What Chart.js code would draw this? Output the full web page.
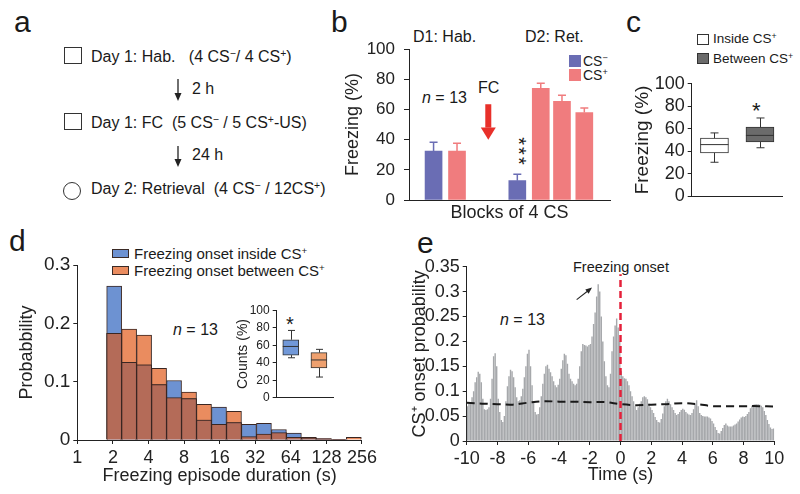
<!DOCTYPE html>
<html>
<head>
<meta charset="utf-8">
<script src="https://cdn.jsdelivr.net/npm/chart.js@4.4.1/dist/chart.umd.min.js"></script>
<style>
  html, body { margin: 0; padding: 0; background: #fff; }
  body { width: 800px; height: 494px; position: relative; overflow: hidden;
         font-family: 'Liberation Sans', Arial, Helvetica, sans-serif; color: #1a1a1a; }
  .t { position: absolute; white-space: nowrap; line-height: 1; }
  .lbl { font-size: 30px; }
  canvas { position: absolute; }
  sup { font-size: 0.65em; position: relative; top: -0.5em; line-height: 0; vertical-align: baseline; }
  .sq { position: absolute; box-sizing: border-box; }
</style>
</head>
<body>

<!-- panel letters -->
<div class="t lbl" style="left:14px;top:7px">a</div>
<div class="t lbl" style="left:331px;top:7px">b</div>
<div class="t lbl" style="left:626px;top:7px">c</div>
<div class="t lbl" style="left:9px;top:226px">d</div>
<div class="t lbl" style="left:417px;top:228px">e</div>

<!-- a: protocol -->
<div class="sq" style="left:64px;top:47px;width:18px;height:17px;border:1px solid #333"></div>
<div class="t" style="left:91px;top:49px;font-size:16px">Day 1: Hab. &nbsp; (4 CS<sup>−</sup>/ 4 CS<sup>+</sup>)</div>
<div class="t" style="left:192px;top:81px;font-size:16px">2 h</div>
<div class="sq" style="left:64px;top:113px;width:18px;height:17px;border:1px solid #333"></div>
<div class="t" style="left:91px;top:115px;font-size:16px">Day 1: FC &nbsp;(5 CS<sup>−</sup> / 5 CS<sup>+</sup>-US)</div>
<div class="t" style="left:192px;top:147px;font-size:16px">24 h</div>
<div class="sq" style="left:63px;top:182px;width:18px;height:18px;border:1px solid #333;border-radius:50%"></div>
<div class="t" style="left:91px;top:181px;font-size:16px">Day 2: Retrieval &nbsp;(4 CS<sup>−</sup> / 12CS<sup>+</sup>)</div>
<svg style="position:absolute;left:0;top:0" width="330" height="230">
  <g stroke="#222" stroke-width="1.3" fill="#222">
    <line x1="178" y1="79" x2="178" y2="95"/>
    <polygon points="174.5,93 181.5,93 178,101" stroke="none"/>
    <line x1="178" y1="146" x2="178" y2="161"/>
    <polygon points="174.5,159 181.5,159 178,167" stroke="none"/>
  </g>
</svg>

<!-- b: annotations -->
<div class="t" style="left:413px;top:29px;font-size:16px">D1: Hab.</div>
<div class="t" style="left:525px;top:29px;font-size:16px">D2: Ret.</div>
<div class="t" style="left:422px;top:90px;font-size:16px"><i>n</i> = 13</div>
<div class="t" style="left:478px;top:80px;font-size:16px">FC</div>
<div class="t" style="left:504px;top:142px;font-size:20px;transform:rotate(90deg);letter-spacing:2px">***</div>
<div class="sq" style="left:569px;top:55px;width:12px;height:12px;background:#6a6db4"></div>
<div class="t" style="left:583px;top:54px;font-size:14px">CS<sup>−</sup></div>
<div class="sq" style="left:569px;top:69px;width:12px;height:12px;background:#f07c7e"></div>
<div class="t" style="left:583px;top:68px;font-size:14px">CS<sup>+</sup></div>

<!-- c: legend and mark -->
<div class="sq" style="left:697px;top:34px;width:12px;height:11px;border:1px solid #333;background:#fff"></div>
<div class="t" style="left:713px;top:32px;font-size:13.5px">Inside CS<sup>+</sup></div>
<div class="sq" style="left:697px;top:53px;width:12px;height:11px;border:1px solid #333;background:#6b6b6b"></div>
<div class="t" style="left:713px;top:52px;font-size:13.5px">Between CS<sup>+</sup></div>
<div class="t" style="left:752px;top:100px;font-size:22px">*</div>

<!-- d: legend and marks -->
<div class="sq" style="left:112px;top:249px;width:17px;height:9px;background:#6d92d2;border:1px solid #3a2a26"></div>
<div class="t" style="left:134px;top:246px;font-size:15px">Freezing onset inside CS<sup>+</sup></div>
<div class="sq" style="left:112px;top:266px;width:17px;height:9px;background:#ea8c5f;border:1px solid #3a2a26"></div>
<div class="t" style="left:134px;top:263px;font-size:15px">Freezing onset between CS<sup>+</sup></div>
<div class="t" style="left:173px;top:322px;font-size:16px"><i>n</i> = 13</div>
<div class="t" style="left:286px;top:314px;font-size:20px">*</div>

<!-- e: annotations -->
<div class="t" style="left:573px;top:260px;font-size:14.5px">Freezing onset</div>
<div class="t" style="left:500px;top:312px;font-size:16px"><i>n</i> = 13</div>

<canvas id="cB" width="290" height="200" style="left:330px;top:30px"></canvas>
<canvas id="cC" width="180" height="140" style="left:620px;top:70px"></canvas>
<canvas id="cD" width="380" height="249" style="left:0px;top:245px"></canvas>
<canvas id="cDin" width="115" height="108" style="left:225px;top:300px"></canvas>
<canvas id="cE" width="390" height="254" style="left:400px;top:240px"></canvas>

<script>
// ── DATA ──────────────────────────────────────────────────────────

// b: freezing per block of 4 CS (mean ± SEM); block slot along the x axis
const bMinusBlock = [1.1, 4.85];
const bMinusMean  = [32.4, 12.8];
const bMinusSem   = [5.9, 4.2];
const bPlusBlock  = [2.15, 5.9, 6.85, 7.85];
const bPlusMean   = [32.4, 74.0, 65.5, 58.0];
const bPlusSem    = [5.3, 3.4, 3.9, 3.0];

// c: freezing inside / between CS+ (box plot)
const cGroups = ['Inside CS+', 'Between CS+'];
const cMin = [30.2, 43.1];
const cQ1  = [38.6, 48.2];
const cMed = [45.9, 54.1];
const cQ3  = [51.6, 61.4];
const cMax = [56.3, 69.6];

// d: episode duration histogram (bin centres in s)
const dBinSec  = [2.05, 2.744, 3.674, 4.918, 6.585, 8.815, 11.80, 15.80, 21.16,
                  28.32, 37.92, 50.77, 67.97, 91.0, 121.8, 163.1, 218.4];
const dInside  = [0.264, 0.133, 0.129, 0.095, 0.102, 0.071, 0.034, 0.0566, 0.030,
                  0.027, 0.0286, 0.018, 0.012, 0.0034, 0.002, 0.001, 0];
const dBetween = [0.183, 0.190, 0.180, 0.123, 0.0726, 0.082, 0.061, 0.027, 0.049,
                  0.0057, 0.010, 0.0126, 0.0046, 0.0046, 0.0023, 0.001, 0.0046];
const dTicks   = [1, 2, 4, 8, 16, 32, 64, 128, 256];

// d inset: counts (%) box plot
const dinGroups = ['inside', 'between'];
const dinMin = [45.7, 23.7];
const dinQ1  = [48.7, 34.0];
const dinMed = [58.6, 43.2];
const dinQ3  = [66.3, 51.6];
const dinMax = [76.9, 55.3];

// e: CS+ onset probability, 0.1 s bins from -10 s to +10 s (one row per second)
const eProb = [
  0.070,0.075,0.078,0.088,0.100,0.118,0.128,0.139,0.135,0.118,
  0.085,0.064,0.062,0.064,0.068,0.085,0.125,0.170,0.176,0.150,
  0.085,0.058,0.042,0.038,0.050,0.080,0.110,0.130,0.143,0.140,
  0.128,0.108,0.088,0.080,0.082,0.090,0.105,0.128,0.150,0.175,
  0.183,0.150,0.112,0.080,0.058,0.053,0.054,0.068,0.090,0.115,
  0.135,0.150,0.153,0.145,0.138,0.130,0.120,0.112,0.108,0.113,
  0.125,0.145,0.162,0.175,0.172,0.155,0.135,0.125,0.120,0.115,
  0.112,0.115,0.125,0.150,0.180,0.195,0.193,0.192,0.190,0.193,
  0.195,0.210,0.235,0.258,0.290,0.315,0.300,0.250,0.200,0.160,
  0.130,0.112,0.108,0.135,0.180,0.210,0.232,0.246,0.228,0.200,
  0.140,0.130,0.126,0.125,0.120,0.112,0.100,0.090,0.080,0.070,
  0.062,0.068,0.075,0.080,0.088,0.090,0.088,0.084,0.075,0.068,
  0.062,0.056,0.048,0.042,0.038,0.037,0.044,0.055,0.070,0.080,
  0.085,0.080,0.074,0.068,0.062,0.056,0.052,0.054,0.058,0.062,
  0.065,0.063,0.058,0.055,0.053,0.052,0.056,0.064,0.075,0.082,
  0.070,0.056,0.052,0.050,0.049,0.049,0.049,0.047,0.045,0.040,
  0.035,0.028,0.022,0.016,0.015,0.020,0.026,0.032,0.035,0.031,
  0.029,0.029,0.029,0.031,0.033,0.035,0.039,0.043,0.047,0.049,
  0.048,0.050,0.054,0.058,0.066,0.071,0.073,0.074,0.074,0.074,
  0.073,0.071,0.068,0.060,0.052,0.042,0.034,0.027,0.024,0.025,
];
// shuffled-baseline (dashed black)
const eBaseT = [-10,-9,-8,-7,-6,-5,-4,-3,-2,-1,0,1,2,3,4,5,6,7,8,9,10];
const eBaseP = [0.077,0.075,0.074,0.073,0.077,0.080,0.079,0.079,0.078,0.078,0.074,
                0.072,0.073,0.074,0.076,0.074,0.070,0.070,0.070,0.070,0.069];
const eOnsetTop = 0.335;

// ── ESTILO ────────────────────────────────────────────────────────

const FONT = "'Liberation Sans', Arial, Helvetica, sans-serif";
const INK  = '#222';
Chart.defaults.font.family = FONT;
Chart.defaults.color = INK;

function baseOpts(pad) {
  return {
    responsive: false, animation: false, events: [],
    layout: { padding: pad },
    plugins: { legend: { display: false }, tooltip: { enabled: false } },
  };
}

function axisY(o) {
  return {
    type: 'linear', min: o.min, max: o.max,
    afterFit: s => { s.width = o.width; },
    border: { display: true, color: INK, width: 1 },
    grid: { display: true, drawOnChartArea: false, drawTicks: true, tickLength: o.tick || 4, color: INK },
    ticks: { stepSize: o.step, autoSkip: false, padding: o.pad || 3, color: INK, font: { size: o.size },
             callback: v => String(+v.toFixed(2)) },
    title: o.title
      ? { display: true, text: o.title, color: INK, font: { size: o.titleSize }, padding: { top: o.titlePad, bottom: 0 } }
      : { display: false },
  };
}

function axisXBlank(height, title, size, pad) {
  return {
    afterFit: s => { s.height = height; },
    border: { display: true, color: INK, width: 1 },
    grid: { display: false },
    ticks: { display: false },
    title: title
      ? { display: true, text: title, color: INK, font: { size }, padding: { top: 0, bottom: pad } }
      : { display: false },
  };
}

// ── PLUGINS ───────────────────────────────────────────────────────

function mkBoxPlugin(st, cap) {
  return {
    id: 'boxWhiskers',
    afterDatasetsDraw(chart) {
      const { ctx, scales: { y } } = chart;
      const meta = chart.getDatasetMeta(0);
      ctx.save();
      ctx.strokeStyle = '#333';
      ctx.lineWidth = 1;
      meta.data.forEach((bar, i) => {
        const x = Math.round(bar.x) + 0.5, half = bar.width / 2;
        const lo = y.getPixelForValue(st.min[i]), hi = y.getPixelForValue(st.max[i]);
        const q1 = y.getPixelForValue(st.q1[i]),  q3 = y.getPixelForValue(st.q3[i]);
        const md = y.getPixelForValue(st.med[i]);
        ctx.beginPath();
        ctx.moveTo(x, q1); ctx.lineTo(x, lo);
        ctx.moveTo(x - cap, lo); ctx.lineTo(x + cap, lo);
        ctx.moveTo(x, q3); ctx.lineTo(x, hi);
        ctx.moveTo(x - cap, hi); ctx.lineTo(x + cap, hi);
        ctx.moveTo(bar.x - half, md); ctx.lineTo(bar.x + half, md);
        ctx.stroke();
      });
      ctx.restore();
    }
  };
}

const semBars = {
  id: 'semBars',
  afterDatasetsDraw(chart) {
    const { ctx, scales: { y } } = chart;
    const sems = [bMinusSem, bPlusSem];
    ctx.save();
    ctx.lineWidth = 1.5;
    chart.data.datasets.forEach((ds, d) => {
      ctx.strokeStyle = ds.backgroundColor;
      chart.getDatasetMeta(d).data.forEach((bar, i) => {
        const top = y.getPixelForValue(ds.data[i].y + sems[d][i]);
        ctx.beginPath();
        ctx.moveTo(bar.x, bar.y); ctx.lineTo(bar.x, top);
        ctx.moveTo(bar.x - 4, top); ctx.lineTo(bar.x + 4, top);
        ctx.stroke();
      });
    });
    ctx.restore();
  }
};

const fcArrow = {
  id: 'fcArrow',
  afterDatasetsDraw(chart) {
    const { ctx, scales: { x, y } } = chart;
    const px = x.getPixelForValue(3.55);
    const y0 = y.getPixelForValue(63.5), yh = y.getPixelForValue(48), yt = y.getPixelForValue(40);
    ctx.save();
    ctx.fillStyle = '#e8302a';
    ctx.fillRect(px - 3, y0, 6, yh - y0);
    ctx.beginPath();
    ctx.moveTo(px - 7.5, yh); ctx.lineTo(px + 7.5, yh); ctx.lineTo(px, yt); ctx.closePath();
    ctx.fill();
    ctx.restore();
  }
};

const onsetArrow = {
  id: 'onsetArrow',
  afterDatasetsDraw(chart) {
    const { ctx, scales: { x, y } } = chart;
    const x0 = x.getPixelForValue(-2.85), y0 = y.getPixelForValue(0.284);
    const x1 = x.getPixelForValue(-1.85), y1 = y.getPixelForValue(0.308);
    const a = Math.atan2(y1 - y0, x1 - x0);
    ctx.save();
    ctx.strokeStyle = ctx.fillStyle = '#222';
    ctx.lineWidth = 1.1;
    ctx.beginPath(); ctx.moveTo(x0, y0); ctx.lineTo(x1 - 3 * Math.cos(a), y1 - 3 * Math.sin(a)); ctx.stroke();
    ctx.beginPath();
    ctx.moveTo(x1, y1);
    ctx.lineTo(x1 - 7 * Math.cos(a - 0.4), y1 - 7 * Math.sin(a - 0.4));
    ctx.lineTo(x1 - 7 * Math.cos(a + 0.4), y1 - 7 * Math.sin(a + 0.4));
    ctx.closePath(); ctx.fill();
    ctx.restore();
  }
};

// ── GRÁFICOS ──────────────────────────────────────────────────────

// b
new Chart(document.getElementById('cB'), {
  type: 'bar',
  data: {
    datasets: [
      { label: 'CS−', data: bMinusBlock.map((b, i) => ({ x: b, y: bMinusMean[i] })),
        backgroundColor: '#6a6db4', barThickness: 17, grouped: false },
      { label: 'CS+', data: bPlusBlock.map((b, i) => ({ x: b, y: bPlusMean[i] })),
        backgroundColor: '#f07c7e', barThickness: 17, grouped: false },
    ],
  },
  options: {
    ...baseOpts({ top: 13, right: 10, left: 0, bottom: 0 }),
    scales: {
      x: { type: 'linear', min: 0, max: 9, offset: false, ...axisXBlank(30, 'Blocks of 4 CS', 18, 6) },
      y: axisY({ min: 0, max: 100, step: 20, width: 79, size: 17, tick: 5, pad: 9,
                 title: 'Freezing (%)', titleSize: 18, titlePad: 12 }),
    },
  },
  plugins: [semBars, fcArrow],
});

// c
new Chart(document.getElementById('cC'), {
  type: 'bar',
  data: {
    labels: cGroups,
    datasets: [{
      data: cQ1.map((q, i) => [q, cQ3[i]]),
      backgroundColor: ['#ffffff', '#6b6b6b'],
      borderColor: '#333', borderWidth: 1, borderSkipped: false, barThickness: 28,
    }],
  },
  options: {
    ...baseOpts({ top: 11.7, right: 17.3, left: 0, bottom: 0 }),
    scales: {
      x: { type: 'category', ...axisXBlank(10) },
      y: axisY({ min: 0, max: 100, step: 20, width: 71.7, size: 18, tick: 4, pad: 3,
                 title: 'Freezing (%)', titleSize: 19, titlePad: 11 }),
    },
  },
  plugins: [mkBoxPlugin({ min: cMin, q1: cQ1, med: cMed, q3: cQ3, max: cMax }, 4)],
});

// d
const dOverlap = dInside.map((v, i) => Math.min(v, dBetween[i]));
const histStyle = { borderColor: '#3a2622', borderWidth: 1, grouped: false,
                    barPercentage: 1, categoryPercentage: 1 };
new Chart(document.getElementById('cD'), {
  type: 'bar',
  data: {
    datasets: [
      { data: dBinSec.map((s, i) => ({ x: s, y: dOverlap[i] })),  backgroundColor: '#b46b58', ...histStyle },
      { data: dBinSec.map((s, i) => ({ x: s, y: dInside[i] })),   backgroundColor: '#6d92d2', ...histStyle },
      { data: dBinSec.map((s, i) => ({ x: s, y: dBetween[i] })),  backgroundColor: '#ea8c5f', ...histStyle },
    ],
  },
  options: {
    ...baseOpts({ top: 20, right: 18, left: 0, bottom: 0 }),
    scales: {
      x: {
        type: 'logarithmic', min: 1, max: 256, offset: false,
        afterBuildTicks: s => { s.ticks = dTicks.map(v => ({ value: v })); },
        afterFit: s => { s.height = 54; },
        border: { display: true, color: INK, width: 1 },
        grid: { display: true, offset: false, drawOnChartArea: false, tickLength: 4, color: INK },
        ticks: { autoSkip: false, maxRotation: 0, padding: 3, color: INK, font: { size: 18 },
                 callback: v => String(v) },
        title: { display: true, text: 'Freezing episode duration (s)', color: INK,
                 font: { size: 18 }, padding: { top: 0, bottom: 7 } },
      },
      y: axisY({ min: 0, max: 0.3, step: 0.1, width: 77.3, size: 19, tick: 4, pad: 3,
                 title: 'Probabbility', titleSize: 18, titlePad: 16 }),
    },
  },
});

// d inset
new Chart(document.getElementById('cDin'), {
  type: 'bar',
  data: {
    labels: dinGroups,
    datasets: [{
      data: dinQ1.map((q, i) => [q, dinQ3[i]]),
      backgroundColor: ['#7198d8', '#eea06e'],
      borderColor: '#333', borderWidth: 1, borderSkipped: false, barThickness: 16,
    }],
  },
  options: {
    ...baseOpts({ top: 8.3, right: 7, left: 0, bottom: 0 }),
    scales: {
      x: { type: 'category', ...axisXBlank(8.7) },
      y: axisY({ min: 0, max: 100, step: 20, width: 51.7, size: 12, tick: 4, pad: 3,
                 title: 'Counts (%)', titleSize: 14, titlePad: 9.5 }),
    },
  },
  plugins: [mkBoxPlugin({ min: dinMin, q1: dinQ1, med: dinMed, q3: dinQ3, max: dinMax }, 3.5)],
});

// e
new Chart(document.getElementById('cE'), {
  data: {
    datasets: [
      { type: 'line', data: [{ x: 0, y: 0 }, { x: 0, y: eOnsetTop }],
        borderColor: '#e5203a', borderWidth: 2.5, borderDash: [7, 4], pointRadius: 0 },
      { type: 'line', data: eBaseT.map((t, i) => ({ x: t, y: eBaseP[i] })),
        borderColor: '#1a1a1a', borderWidth: 2, borderDash: [8, 5], pointRadius: 0, tension: 0.35 },
      { type: 'bar', data: eProb.map((p, i) => ({ x: -10 + (i + 0.5) / 10, y: p })),
        backgroundColor: '#a6a8ab', barPercentage: 0.92, categoryPercentage: 1 },
    ],
  },
  options: {
    ...baseOpts({ top: 26.7, right: 15.7, left: 0, bottom: 0 }),
    scales: {
      x: {
        type: 'linear', min: -10, max: 10, offset: false,
        afterFit: s => { s.height = 53; },
        border: { display: true, color: INK, width: 1 },
        grid: { display: true, offset: false, drawOnChartArea: false, tickLength: 4, color: INK },
        ticks: { stepSize: 2, maxRotation: 0, padding: 3, color: INK, font: { size: 18 } },
        title: { display: true, text: 'Time (s)', color: INK, font: { size: 18 }, padding: { top: 0, bottom: 8 } },
      },
      y: axisY({ min: 0, max: 0.35, step: 0.05, width: 66.7, size: 18, tick: 4, pad: 3,
                 title: 'CS⁺ onset probability', titleSize: 18, titlePad: 9 }),
    },
  },
  plugins: [onsetArrow],
});
</script>
</body>
</html>
